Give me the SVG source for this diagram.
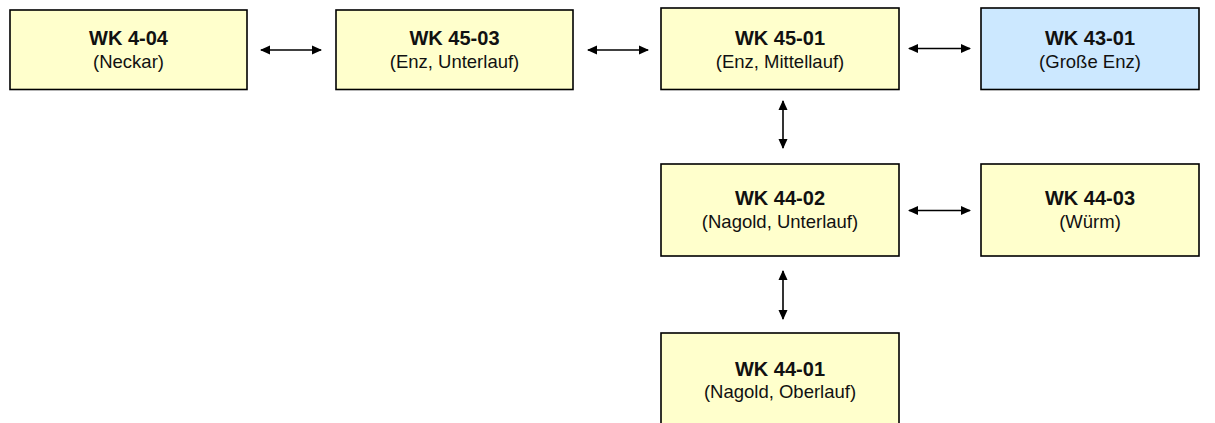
<svg xmlns="http://www.w3.org/2000/svg" width="1215" height="423" viewBox="0 0 1215 423">
<defs>
<style>
.box{fill:#FFFFCC;stroke:#000;stroke-width:1.6}
.blue{fill:#CCE8FF}
.t{font-family:"Liberation Sans",Arial,sans-serif;font-size:20px;font-weight:bold;fill:#111;text-anchor:middle}
.s{font-family:"Liberation Sans",Arial,sans-serif;font-size:18.5px;fill:#111;text-anchor:middle}
.c{stroke:#000;stroke-width:1.6;fill:none;marker-start:url(#a);marker-end:url(#a)}
</style>
<marker id="a" viewBox="0 0 10 10" refX="9" refY="5" markerWidth="6.5" markerHeight="6.5" orient="auto-start-reverse" markerUnits="strokeWidth">
<path d="M0,0.5 L10,5 L0,9.5 Z" fill="#000"/>
</marker>
</defs>
<rect width="1215" height="423" fill="#fff"/>
<g id="connectors">
<line class="c" x1="261" y1="50" x2="321" y2="50"/>
<line class="c" x1="588" y1="50" x2="648" y2="50"/>
<line class="c" x1="909" y1="48.5" x2="970" y2="48.5"/>
<line class="c" x1="783" y1="101" x2="783" y2="148"/>
<line class="c" x1="909" y1="210.5" x2="970" y2="210.5"/>
<line class="c" x1="783" y1="271" x2="783" y2="319"/>
</g>
<g id="wk4-04">
<rect class="box" x="10" y="10" width="237" height="79.5"/>
<text class="t" x="128.5" y="45">WK 4-04</text>
<text class="s" x="128.5" y="68">(Neckar)</text>
</g>
<g id="wk45-03">
<rect class="box" x="336" y="10" width="237" height="79.5"/>
<text class="t" x="454.5" y="45">WK 45-03</text>
<text class="s" x="454.5" y="68">(Enz, Unterlauf)</text>
</g>
<g id="wk45-01">
<rect class="box" x="661" y="8" width="238" height="81.5"/>
<text class="t" x="780" y="45">WK 45-01</text>
<text class="s" x="780" y="68">(Enz, Mittellauf)</text>
</g>
<g id="wk43-01">
<rect class="box blue" x="981" y="8" width="218" height="81.5"/>
<text class="t" x="1090" y="45">WK 43-01</text>
<text class="s" x="1090" y="68">(Große Enz)</text>
</g>
<g id="wk44-02">
<rect class="box" x="661" y="164" width="238" height="92"/>
<text class="t" x="780" y="205">WK 44-02</text>
<text class="s" x="780" y="228">(Nagold, Unterlauf)</text>
</g>
<g id="wk44-03">
<rect class="box" x="981" y="164" width="218" height="92"/>
<text class="t" x="1090" y="205">WK 44-03</text>
<text class="s" x="1090" y="228">(Würm)</text>
</g>
<g id="wk44-01">
<rect class="box" x="661" y="333" width="238" height="92"/>
<text class="t" x="780" y="376">WK 44-01</text>
<text class="s" x="780" y="398">(Nagold, Oberlauf)</text>
</g>
</svg>
